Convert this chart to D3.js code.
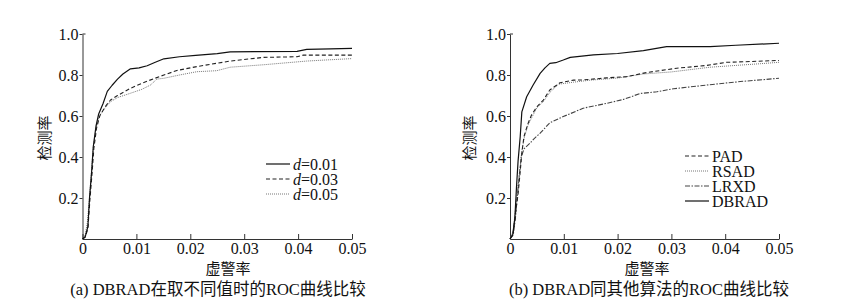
<!DOCTYPE html>
<html>
<head>
<meta charset="utf-8">
<script src="https://cdn.jsdelivr.net/npm/d3@7"></script>
<style>
  body { margin: 0; background: #fff; }
  svg text { font-family: "Liberation Serif", "Noto Sans CJK SC", serif; fill: #111; }
</style>
</head>
<body>
<svg id="chart" width="845" height="306"></svg>
<script>
// ---- data ----
const xTicks = [0, 0.01, 0.02, 0.03, 0.04, 0.05];
const xTickLabels = ['0', '0.01', '0.02', '0.03', '0.04', '0.05'];
const yTicks = [0.2, 0.4, 0.6, 0.8, 1.0];
const yTickLabels = ['0.2', '0.4', '0.6', '0.8', '1.0'];

// panel (a): DBRAD with different d
const seriesA = ['d=0.01', 'd=0.03', 'd=0.05'];
const dA01 = [[0,0],[0.0005,0.01],[0.001,0.06],[0.0013,0.2],[0.0017,0.33],[0.002,0.45],[0.0025,0.55],[0.003,0.61],
  [0.0038,0.66],[0.0046,0.72],[0.0055,0.75],[0.0065,0.78],[0.0075,0.805],[0.0089,0.83],[0.0105,0.835],[0.012,0.845],
  [0.0135,0.862],[0.0151,0.879],[0.018,0.889],[0.021,0.896],[0.025,0.904],[0.0274,0.913],[0.032,0.914],[0.0398,0.915],
  [0.0416,0.925],[0.046,0.927],[0.05,0.93]];
const dA03 = [[0,0],[0.0005,0.01],[0.001,0.05],[0.0014,0.2],[0.0018,0.33],[0.0021,0.44],[0.0026,0.54],[0.0032,0.6],
  [0.0042,0.645],[0.0052,0.678],[0.0065,0.7],[0.0089,0.735],[0.0115,0.765],[0.0151,0.8],[0.0175,0.822],[0.0212,0.841],
  [0.0274,0.868],[0.0336,0.886],[0.0398,0.889],[0.041,0.897],[0.05,0.897]];
const dA05 = [[0,0],[0.0005,0.02],[0.0009,0.08],[0.0013,0.2],[0.0017,0.34],[0.002,0.45],[0.0025,0.54],[0.0031,0.6],
  [0.0042,0.64],[0.0052,0.67],[0.0065,0.69],[0.0089,0.711],[0.011,0.73],[0.0126,0.751],[0.0138,0.78],[0.0151,0.784],
  [0.018,0.8],[0.0212,0.816],[0.0249,0.821],[0.0274,0.838],[0.0336,0.85],[0.0367,0.857],[0.0416,0.868],[0.045,0.873],[0.05,0.88]];

// panel (b): DBRAD vs other algorithms
const seriesB = ['PAD', 'RSAD', 'LRXD', 'DBRAD'];
const dPAD = [[0,0],[0.0006,0.03],[0.001,0.12],[0.0015,0.22],[0.0019,0.33],[0.0022,0.42],[0.0026,0.5],[0.0033,0.56],
  [0.004,0.605],[0.005,0.645],[0.0062,0.678],[0.0074,0.727],[0.0093,0.762],[0.0118,0.775],[0.0136,0.776],[0.018,0.786],
  [0.0217,0.792],[0.0254,0.812],[0.031,0.833],[0.0366,0.847],[0.0403,0.862],[0.045,0.866],[0.05,0.871]];
const dRSAD = [[0,0],[0.0006,0.04],[0.001,0.14],[0.0014,0.24],[0.0018,0.33],[0.0022,0.43],[0.0027,0.5],[0.0034,0.56],
  [0.0042,0.6],[0.005,0.64],[0.0062,0.67],[0.0074,0.715],[0.009,0.755],[0.0118,0.765],[0.015,0.775],[0.02,0.785],
  [0.0248,0.805],[0.03,0.815],[0.0372,0.838],[0.0465,0.855],[0.05,0.862]];
const dLRXD = [[0,0],[0.0006,0.02],[0.001,0.1],[0.0014,0.22],[0.0018,0.33],[0.0021,0.4],[0.0026,0.44],[0.0037,0.467],
  [0.0045,0.49],[0.0056,0.516],[0.0074,0.567],[0.0099,0.597],[0.0136,0.638],[0.018,0.662],[0.0211,0.681],[0.0242,0.71],
  [0.0273,0.718],[0.0304,0.733],[0.0366,0.751],[0.0428,0.768],[0.05,0.784]];
const dDBRAD = [[0,0],[0.0005,0.02],[0.0009,0.1],[0.0012,0.25],[0.0015,0.38],[0.0019,0.5],[0.0022,0.62],[0.0031,0.694],
  [0.0043,0.751],[0.0056,0.808],[0.0065,0.835],[0.0074,0.857],[0.0085,0.86],[0.0099,0.873],[0.0112,0.886],[0.0155,0.898],
  [0.02,0.905],[0.0248,0.919],[0.0291,0.938],[0.0372,0.938],[0.042,0.945],[0.05,0.955]];

const captionA = '(a) DBRAD在取不同值时的ROC曲线比较';
const captionB = '(b) DBRAD同其他算法的ROC曲线比较';
const xLabel = '虚警率';
const yLabel = '检测率';

// ---- drawing ----
const svg = d3.select('#chart');
const styles = {
  solid:   { stroke: '#111', width: 1.2, dash: null },
  dashed:  { stroke: '#222', width: 1.1, dash: '4,2.5' },
  dotted:  { stroke: '#777', width: 1.0, dash: '1,1' },
  dashdot: { stroke: '#444', width: 1.1, dash: '5,1.5,1.5,1.5' }
};

function panel(o) {
  const x = d3.scaleLinear().domain([0, 0.05]).range([o.x0, o.x1]);
  const y = d3.scaleLinear().domain([0, 1]).range([239, 34]);
  const g = svg.append('g');

  const xa = g.append('g').attr('transform', `translate(0,${y(0)})`)
    .call(d3.axisBottom(x).tickValues(xTicks).tickFormat((d, i) => xTickLabels[i])
      .tickSizeInner(-5).tickSizeOuter(0).tickPadding(4));
  const ya = g.append('g').attr('transform', `translate(${x(0)},0)`)
    .call(d3.axisLeft(y).tickValues(yTicks).tickFormat((d, i) => yTickLabels[i])
      .tickSizeInner(3).tickSizeOuter(0).tickPadding(1));
  [xa, ya].forEach(a => {
    a.selectAll('path, line').attr('stroke', '#333').attr('stroke-width', 1);
    a.selectAll('text').attr('font-size', 16).attr('fill', '#111')
      .style('font-family', '"Liberation Serif", serif');
  });
  xa.selectAll('text').attr('dy', '0.71em');
  // small inward hook at the top of the y axis
  g.append('line').attr('x1', x(0)).attr('x2', x(0) + 3).attr('y1', y(1)).attr('y2', y(1))
    .attr('stroke', '#333');

  const line = d3.line().x(d => x(d[0])).y(d => y(d[1]));
  o.series.forEach(s => {
    const st = styles[s.style];
    g.append('path').attr('d', line(s.data)).attr('fill', 'none')
      .attr('stroke', st.stroke).attr('stroke-width', st.width)
      .attr('stroke-dasharray', st.dash).attr('stroke-linejoin', 'round');
  });

  // legend
  o.series.slice().sort((a, b) => a.order - b.order).forEach((s, i) => {
    const st = styles[s.style];
    const ly = o.legendY + i * 15;
    g.append('line').attr('x1', o.legendX).attr('x2', o.legendX + 24).attr('y1', ly).attr('y2', ly)
      .attr('stroke', st.stroke).attr('stroke-width', st.width).attr('stroke-dasharray', st.dash);
    const t = g.append('text').attr('x', o.legendX + 27).attr('y', ly + 5.5).attr('font-size', 16);
    if (s.name.startsWith('d=')) {
      t.append('tspan').attr('font-style', 'italic').text('d');
      t.append('tspan').text(s.name.slice(1));
    } else {
      t.text(s.name);
    }
  });

  g.append('text').attr('x', o.xLabelX).attr('y', 274).attr('text-anchor', 'middle')
    .attr('font-size', 15).style('font-family', '"Noto Sans CJK SC", sans-serif').text(xLabel);
  g.append('text').attr('transform', `translate(${o.yLabelX},138) rotate(-90)`)
    .attr('text-anchor', 'middle').attr('font-size', 15)
    .style('font-family', '"Noto Sans CJK SC", sans-serif').text(yLabel);
  g.append('text').attr('x', o.captionX).attr('y', 295).attr('text-anchor', 'middle')
    .attr('font-size', 16.5).text(o.caption);
}

panel({
  x0: 82.5, x1: 352, legendX: 266, legendY: 164, xLabelX: 228, yLabelX: 50, captionX: 218,
  caption: captionA,
  series: [
    { name: seriesA[2], data: dA05, style: 'dotted', order: 2 },
    { name: seriesA[1], data: dA03, style: 'dashed', order: 1 },
    { name: seriesA[0], data: dA01, style: 'solid', order: 0 }
  ]
});

panel({
  x0: 510, x1: 779, legendX: 685, legendY: 156, xLabelX: 647, yLabelX: 475, captionX: 649,
  caption: captionB,
  series: [
    { name: seriesB[2], data: dLRXD, style: 'dashdot', order: 2 },
    { name: seriesB[1], data: dRSAD, style: 'dotted', order: 1 },
    { name: seriesB[0], data: dPAD, style: 'dashed', order: 0 },
    { name: seriesB[3], data: dDBRAD, style: 'solid', order: 3 }
  ]
});
</script>
</body>
</html>
